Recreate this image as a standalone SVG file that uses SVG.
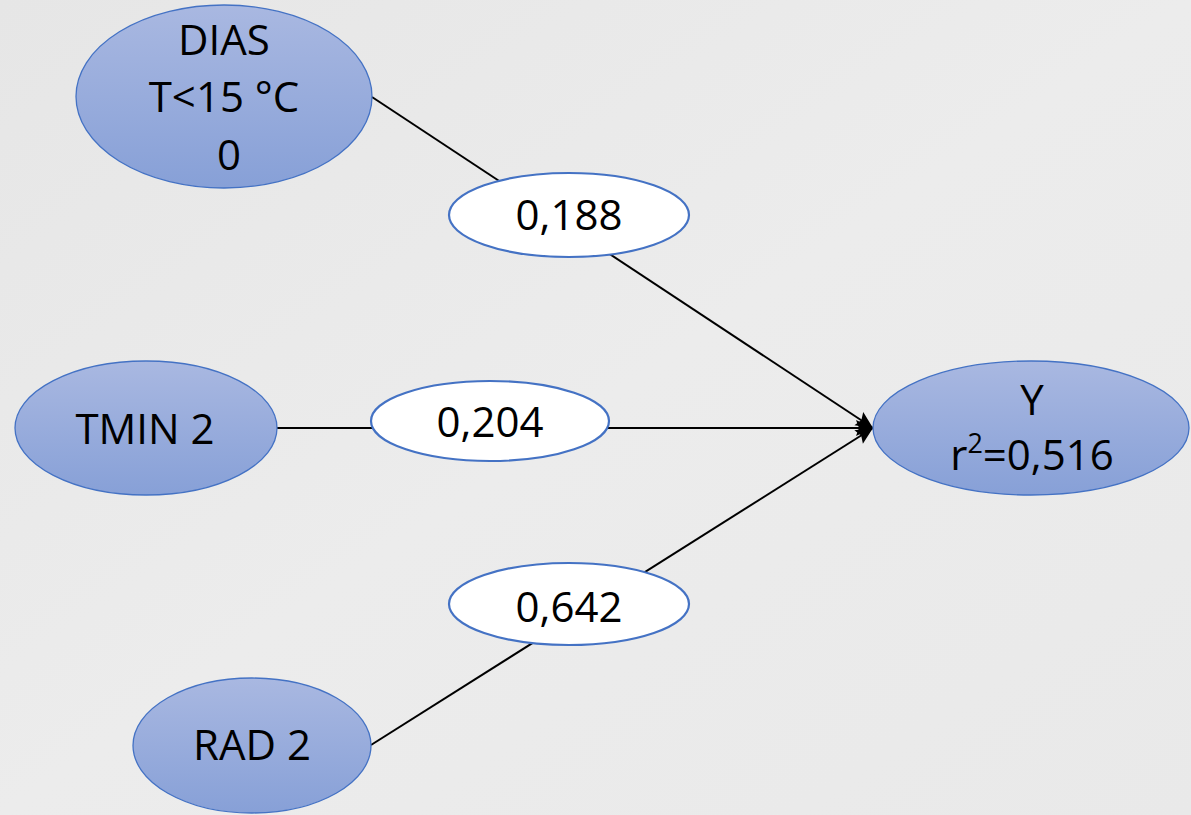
<svg xmlns="http://www.w3.org/2000/svg" width="1191" height="815" viewBox="0 0 1191 815">
  <defs>
    <linearGradient id="bg" x1="0" y1="0" x2="1" y2="1">
      <stop offset="0" stop-color="#e6e6e6"/>
      <stop offset="0.5" stop-color="#ececec"/>
      <stop offset="1" stop-color="#e9e9e9"/>
    </linearGradient>
    <linearGradient id="nodeFill" x1="0" y1="0" x2="0" y2="1">
      <stop offset="0" stop-color="#a9b8e1"/>
      <stop offset="1" stop-color="#87a0d7"/>
    </linearGradient>
    <marker id="arrow" markerUnits="userSpaceOnUse" markerWidth="20" markerHeight="20" viewBox="-1 -10 20 20" refX="17" refY="0" orient="auto">
      <path d="M0,-8 L17,0 L0,8 L3,0 Z" fill="#000"/>
    </marker>
    <style>
      .node { fill: url(#nodeFill); stroke: #4472c4; stroke-width: 1.3; }
      .lbl { fill: #ffffff; stroke: #4472c4; stroke-width: 2.2; }
      .edge { stroke: #000; stroke-width: 2; fill: none; marker-end: url(#arrow); }
      text { font-family: "Open Sans", "Liberation Sans", sans-serif; font-size: 42px; fill: #000; text-anchor: middle; }
    </style>
  </defs>
  <rect width="1191" height="815" fill="url(#bg)"/>

  <g id="connectors">
    <line class="edge" x1="372" y1="97" x2="873" y2="428"/>
    <line class="edge" x1="277" y1="428" x2="873" y2="428"/>
    <line class="edge" x1="371" y1="745" x2="873" y2="428"/>
  </g>

  <g id="node-dias">
    <ellipse class="node" cx="224" cy="96.5" rx="148" ry="91.5"/>
    <text x="224" y="55">DIAS</text>
    <text x="224" y="112">T&lt;15 °C</text>
    <text x="229" y="170">0</text>
  </g>

  <g id="node-tmin">
    <ellipse class="node" cx="146" cy="428" rx="131" ry="67"/>
    <text x="145" y="444">TMIN 2</text>
  </g>

  <g id="node-rad">
    <ellipse class="node" cx="252" cy="745.5" rx="119" ry="67.5"/>
    <text x="252" y="760">RAD 2</text>
  </g>

  <g id="node-y">
    <ellipse class="node" cx="1031" cy="428" rx="158" ry="67"/>
    <text x="1032" y="415">Y</text>
    <text x="1032" y="470">r<tspan font-size="27" dy="-17">2</tspan><tspan dy="17">=0,516</tspan></text>
  </g>

  <g id="label-188">
    <ellipse class="lbl" cx="569" cy="215" rx="120" ry="42"/>
    <text x="569" y="230">0,188</text>
  </g>

  <g id="label-204">
    <ellipse class="lbl" cx="490" cy="421" rx="119" ry="40"/>
    <text x="490" y="437">0,204</text>
  </g>

  <g id="label-642">
    <ellipse class="lbl" cx="569" cy="604" rx="120" ry="41"/>
    <text x="569" y="622">0,642</text>
  </g>
</svg>
